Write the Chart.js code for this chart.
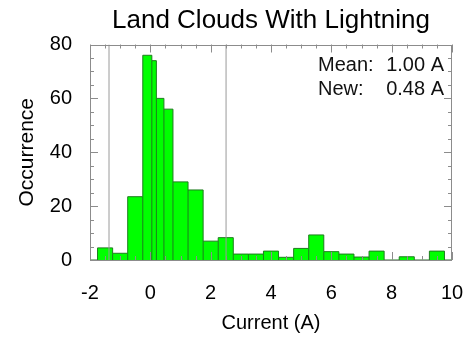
<!DOCTYPE html>
<html>
<head>
<meta charset="utf-8">
<title>Land Clouds With Lightning</title>
<script src="https://cdn.jsdelivr.net/npm/chart.js@4.4.0/dist/chart.umd.min.js"></script>
<style>
html,body{margin:0;padding:0;background:#fff;}
#wrap{width:466px;height:337px;}
</style>
</head>
<body>
<div id="wrap"><canvas id="histChart"></canvas></div>
<script>
// histogram bins (A) and occurrence per bin
const binEdges = [-2, -1.75, -1.25, -0.75, -0.25, 0.05, 0.2, 0.45, 0.75, 1.25, 1.75, 2.25, 2.75, 3.25, 3.75, 4.25, 4.75, 5.25, 5.75, 6.25, 6.75, 7.25, 7.75, 8.25, 8.75, 9.25, 9.75, 10];
const counts = [0, 4.5, 2.5, 23.5, 76, 74, 60, 56, 29, 26, 7, 8.3, 2.2, 2.2, 3.3, 1, 4.3, 9.3, 3.1, 2.2, 1.1, 3.3, 0, 1.2, 0, 3.3, 0];
const markerLines = [-1.37, 2.51];
const xTicks = [-2, 0, 2, 4, 6, 8, 10];
const yTicks = [0, 20, 40, 60, 80];
const statNames = ["Mean:", "New:"];
const statValues = ["1.00 A", "0.48 A"];

const FONT = '"Liberation Sans", Arial, sans-serif';
Chart.defaults.font.family = FONT;
Chart.defaults.color = "#000";

// outline of the bars, step held until next edge
const outline = binEdges.map((e, i) => ({ x: e, y: counts[Math.min(i, counts.length - 1)] }));

// inner bar edges down to the axis
const dividers = [];
for (let i = 1; i < counts.length; i++) {
  const h = Math.min(counts[i - 1], counts[i]);
  if (h > 0) dividers.push({ x: binEdges[i], y: 0 }, { x: binEdges[i], y: h }, { x: binEdges[i], y: null });
}

// box + inward ticks like the original plot
const frame = {
  id: "frame",
  afterDatasetsDraw(chart){
    const { ctx, chartArea: a, scales: { x, y } } = chart;
    ctx.save();
    ctx.strokeStyle = "#8c8c8c";
    ctx.lineWidth = 1;
    ctx.strokeRect(Math.round(a.left) + 0.5, Math.round(a.top) + 0.5, Math.round(a.width) - 1, Math.round(a.height) - 1);
    ctx.beginPath();
    x.ticks.forEach(t => {
      const px = Math.round(x.getPixelForValue(t.value)) + 0.5;
      const len = t.label !== "" ? 8 : 4;
      ctx.moveTo(px, a.bottom); ctx.lineTo(px, a.bottom - len);
      ctx.moveTo(px, a.top); ctx.lineTo(px, a.top + len);
    });
    y.ticks.forEach(t => {
      const py = Math.round(y.getPixelForValue(t.value)) + 0.5;
      const len = t.label !== "" ? 8 : 4;
      ctx.moveTo(a.left, py); ctx.lineTo(a.left + len, py);
      ctx.moveTo(a.right, py); ctx.lineTo(a.right - len, py);
    });
    ctx.stroke();
    ctx.restore();
  },
  afterDraw(chart){
    const { ctx, chartArea: a } = chart;
    ctx.save();
    ctx.font = "20px " + FONT;
    ctx.fillStyle = "#111";
    ctx.textBaseline = "alphabetic";
    statNames.forEach((n, i) => {
      const by = a.top + 26 + i * 24;
      ctx.textAlign = "left";
      ctx.fillText(n, a.right - 134, by);
      ctx.textAlign = "right";
      ctx.fillText(statValues[i], a.right - 8, by);
    });
    ctx.restore();
  }
};

new Chart(document.getElementById("histChart"), {
  type: "line",
  data: {
    datasets: [
      ...markerLines.map(v => ({
        data: [{ x: v, y: yTicks[0] }, { x: v, y: yTicks[yTicks.length - 1] }],
        borderColor: "#9a9a9a", borderWidth: 1, pointRadius: 0, order: 0
      })),
      { data: dividers, borderColor: "#1e7d1e", borderWidth: 1, pointRadius: 0, spanGaps: false, order: 1 },
      { data: outline, stepped: "before", fill: "origin", backgroundColor: "#00ff00",
        borderColor: "#1e7d1e", borderWidth: 1, pointRadius: 0, order: 2 }
    ]
  },
  options: {
    responsive: true,
    maintainAspectRatio: false,
    animation: false,
    layout: { padding: { left: 0, right: 14, top: 0, bottom: 0 } },
    plugins: {
      legend: { display: false },
      tooltip: { enabled: false },
      title: {
        display: true, fullSize: false,
        text: "Land Clouds With Lightning",
        color: "#000",
        font: { size: 26, weight: "normal" },
        padding: { top: 5, bottom: 8.3 }
      }
    },
    scales: {
      x: {
        type: "linear", min: xTicks[0], max: xTicks[xTicks.length - 1],
        grid: { display: false }, border: { display: false },
        ticks: { stepSize: 0.5, autoSkip: false, maxRotation: 0, padding: 13,
          font: { size: 20 }, callback: v => xTicks.includes(v) ? String(v) : "" },
        title: { display: true, text: "Current (A)", font: { size: 20 }, padding: { top: 0, bottom: 2 } },
        afterFit(s){ s.height = 77; s.paddingLeft = 0; s.paddingRight = 0; }
      },
      y: {
        min: yTicks[0], max: yTicks[yTicks.length - 1],
        grid: { display: false }, border: { display: false },
        ticks: { stepSize: 5, autoSkip: false, padding: 10,
          font: { size: 20 }, callback: v => yTicks.includes(v) ? String(v) : "" },
        title: { display: true, text: "Occurrence", font: { size: 21 }, padding: { top: 15, bottom: 0 } },
        afterFit(s){ s.width = 90; s.paddingTop = 0; s.paddingBottom = 0; }
      }
    }
  },
  plugins: [frame]
});
</script>
</body>
</html>
